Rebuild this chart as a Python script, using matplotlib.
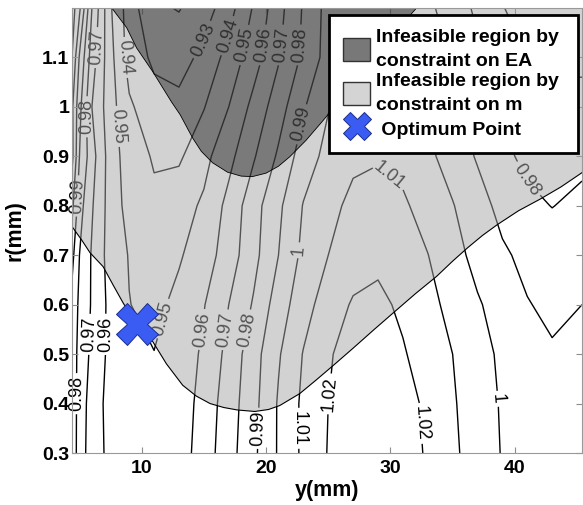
import matplotlib.pyplot as plt
import numpy as np
from matplotlib.patches import Patch
from matplotlib.lines import Line2D

plt.rcParams['font.family'] = ['Liberation Sans', 'DejaVu Sans']

# Axis limits
y_lim = (4.4, 45.4)
r_lim = (0.3, 1.2)

# Objective field (rows: r, columns: y)
y_grid = [4.4, 5.0, 6.0, 7.5, 9, 11, 13, 15, 17, 19, 21, 23, 25, 27, 29, 31,
          33, 35, 37, 39, 41, 43, 45.4]
r_grid = [0.3, 0.4, 0.5, 0.6, 0.7, 0.8, 0.9, 1.0, 1.1, 1.2]
z_r030 = [0.9875, 0.9745, 0.9655, 0.957, 0.955, 0.954, 0.955, 0.965, 0.976, 0.988, 1.001, 1.012,
          1.0205, 1.024, 1.026, 1.024, 1.019, 1.012, 1.005, 0.9995, 0.997, 0.995, 0.994]
z_r040 = [0.9875, 0.975, 0.966, 0.956, 0.953, 0.952, 0.954, 0.964, 0.975, 0.987, 1.001, 1.012,
          1.020, 1.025, 1.026, 1.024, 1.018, 1.011, 1.005, 0.999, 0.995, 0.992, 0.992]
z_r050 = [0.987, 0.976, 0.968, 0.957, 0.9515, 0.9502, 0.953, 0.962, 0.973, 0.986, 0.999, 1.0105,
          1.019, 1.024, 1.025, 1.021, 1.015, 1.010, 1.004, 0.998, 0.994, 0.991, 0.991]
z_r060 = [0.987, 0.978, 0.969, 0.957, 0.9502, 0.9475, 0.9525, 0.9595, 0.970, 0.981, 0.995, 1.006,
          1.015, 1.021, 1.0225, 1.018, 1.0125, 1.0075, 1.001, 0.996, 0.9905, 0.988, 0.990]
z_r070 = [0.993, 0.980, 0.969, 0.9555, 0.9495, 0.944, 0.949, 0.955, 0.965, 0.977, 0.990, 1.0025,
          1.010, 1.0155, 1.0175, 1.015, 1.0102, 1.0035, 0.997, 0.9915, 0.9875, 0.9845, 0.986]
z_r080 = [1.003, 0.984, 0.971, 0.9555, 0.9465, 0.942, 0.946, 0.9515, 0.963, 0.976, 0.988, 1.0005,
          1.007, 1.0125, 1.0145, 1.0115, 1.006, 1.0005, 0.994, 0.987, 0.982, 0.9798, 0.982]
z_r090 = [1.013, 0.990, 0.974, 0.955, 0.945, 0.939, 0.9385, 0.947, 0.957, 0.969, 0.9815, 0.995,
          1.003, 1.008, 1.009, 1.007, 1.002, 0.996, 0.989, 0.982, 0.978, 0.977, 0.978]
z_r100 = [1.012, 0.993, 0.970, 0.954, 0.9415, 0.934, 0.933, 0.9395, 0.950, 0.963, 0.9755, 0.989,
          0.9995, 1.003, 1.004, 1.003, 0.9995, 0.993, 0.9875, 0.9795, 0.975, 0.973, 0.973]
z_r110 = [1.020, 0.999, 0.975, 0.953, 0.936, 0.928, 0.9255, 0.933, 0.9435, 0.9555, 0.969, 0.982,
          0.994, 1.001, 1.003, 1.002, 0.996, 0.989, 0.982, 0.975, 0.970, 0.968, 0.968]
z_r120 = [1.025, 1.012, 0.980, 0.951, 0.935, 0.9215, 0.9195, 0.925, 0.936, 0.951, 0.9665, 0.981,
          0.9935, 0.997, 0.998, 0.9965, 0.992, 0.9855, 0.978, 0.9705, 0.965, 0.962, 0.962]
levels = [0.92, 0.93, 0.94, 0.95, 0.96, 0.97, 0.98, 0.99, 1.0, 1.01, 1.02]

# Boundary of the region infeasible by the constraint on m (region above it)
m_y = [4.4, 5.2, 5.85, 6.9, 7.7, 8.5, 9.2, 9.9, 10.9, 12.0, 13.3, 14.4, 15.5, 16.6, 17.7,
       19.1, 20.2, 21.1, 22.7, 24.0, 25.4, 27.0, 28.7, 30.3, 32.0, 33.7, 35.0, 36.2, 37.4,
       38.6, 40.3, 42.0, 43.7, 45.4]
m_r = [0.758, 0.73, 0.705, 0.677, 0.64, 0.604, 0.575, 0.553, 0.525, 0.48, 0.437, 0.415,
       0.400, 0.392, 0.387, 0.384, 0.388, 0.396, 0.420, 0.447, 0.477, 0.512, 0.550, 0.585,
       0.622, 0.657, 0.688, 0.715, 0.740, 0.762, 0.790, 0.813, 0.838, 0.867]

# Boundary of the region infeasible by the constraint on EA (region above it)
ea_y = [7.6, 8.8, 9.6, 10.9, 12.4, 13.1, 14.1, 14.8, 15.7, 16.9, 18.0, 18.9, 20.0, 21.0,
        21.9, 23.2, 24.5, 26.0, 27.5, 29.0, 30.5, 32.1]
ea_r = [1.2, 1.16, 1.119, 1.071, 1.01, 0.984, 0.937, 0.91, 0.887, 0.868, 0.860, 0.859,
        0.866, 0.880, 0.899, 0.932, 0.970, 1.015, 1.062, 1.11, 1.155, 1.2]

# Optimum point
opt_y = [9.6]
opt_r = [0.56]

# Where the contour labels sit (y, r)
label_pos = [(4.7, 0.82), (5.6, 0.98), (6.3, 1.12), (7.8, 0.96), (8.7, 1.10),
             (14.6, 1.14), (16.8, 1.145), (18.3, 1.125), (19.8, 1.125), (21.25, 1.125),
             (22.75, 1.125), (23.0, 0.964), (29.8, 0.86), (41.0, 0.853), (22.6, 0.71),
             (5.8, 0.54), (7.1, 0.54), (4.8, 0.42), (12.0, 0.57), (14.8, 0.55),
             (16.5, 0.55), (18.3, 0.55), (19.3, 0.35), (22.5, 0.35), (24.9, 0.42),
             (32.5, 0.36), (38.8, 0.41)]

Z = np.array([z_r030, z_r040, z_r050, z_r060, z_r070, z_r080, z_r090, z_r100, z_r110, z_r120])

fig = plt.figure(figsize=(5.83, 5.05), dpi=100)
ax = fig.add_axes([72 / 583, 52 / 505, 510 / 583, 445 / 505])

# Contours
cs = ax.contour(y_grid, r_grid, Z, levels=levels, colors='black', linewidths=1.0, zorder=1)
texts = ax.clabel(cs, manual=label_pos, inline=True, inline_spacing=3,
                  fmt=lambda v: f'{round(v, 2):g}', fontsize=13)
for t in texts:
    t.set_zorder(2)
    t.set_clip_on(False)

# Infeasible regions (semi-transparent, contours show through)
ax.fill(m_y + [y_lim[1], y_lim[0]], m_r + [r_lim[1], r_lim[1]],
        facecolor='0.65', alpha=0.5, edgecolor='none', zorder=3)
ax.plot(m_y, m_r, color='black', linewidth=0.8, zorder=3.5)
ax.fill(ea_y, ea_r, facecolor='black', alpha=0.42, edgecolor='none', zorder=3.2)
ax.plot(ea_y, ea_r, color='black', linewidth=0.6, zorder=3.5)

# Optimum
ax.plot(opt_y, opt_r, linestyle='none', marker='X', markersize=30,
        color='#3b5cf2', markeredgecolor='#1c2f8a', markeredgewidth=0.7, zorder=4)

# Axes
ax.set_xlim(*y_lim)
ax.set_ylim(*r_lim)
ax.set_xticks([10, 20, 30, 40])
ax.set_yticks([0.3, 0.4, 0.5, 0.6, 0.7, 0.8, 0.9, 1.0, 1.1])
ax.set_yticklabels(['0.3', '0.4', '0.5', '0.6', '0.7', '0.8', '0.9', '1', '1.1'])
ax.tick_params(direction='in', top=True, right=True, length=4, color='0.55', labelsize=14)
ax.tick_params(axis='y', pad=2)
ax.tick_params(axis='x', pad=5)
for lbl in ax.get_xticklabels() + ax.get_yticklabels():
    lbl.set_fontweight('bold')
for sp in ax.spines.values():
    sp.set_color('0.6')
    sp.set_zorder(10)

ax.set_xlabel('y(mm)', fontsize=15.5, fontweight='bold')
ax.set_ylabel('r(mm)', fontsize=15.5, fontweight='bold')
ax.xaxis.set_label_coords(0.5, -0.06)
ax.yaxis.set_label_coords(-0.092, 0.5)

# Legend
handles = [
    Patch(facecolor='0.47', edgecolor='0.2'),
    Patch(facecolor='0.83', edgecolor='0.2'),
    Line2D([], [], linestyle='none', marker='X', markersize=20, color='#3b5cf2',
           markeredgecolor='#1c2f8a', markeredgewidth=0.7),
]
leg = ax.legend(handles,
                ['Infeasible region by \nconstraint on EA',
                 'Infeasible region by \nconstraint on m',
                 ' Optimum Point'],
                loc='upper right', bbox_to_anchor=(0.992, 0.984), borderaxespad=0,
                prop={'weight': 'bold', 'size': 14}, handlelength=1.4, handleheight=1.4,
                handletextpad=0.3, labelspacing=0.15, borderpad=0.7,
                fancybox=False, framealpha=1, edgecolor='black')
leg.get_frame().set_linewidth(2)
for t in leg.get_texts():
    t.set_linespacing(1.55)

fig.savefig('out.png', dpi=100)
